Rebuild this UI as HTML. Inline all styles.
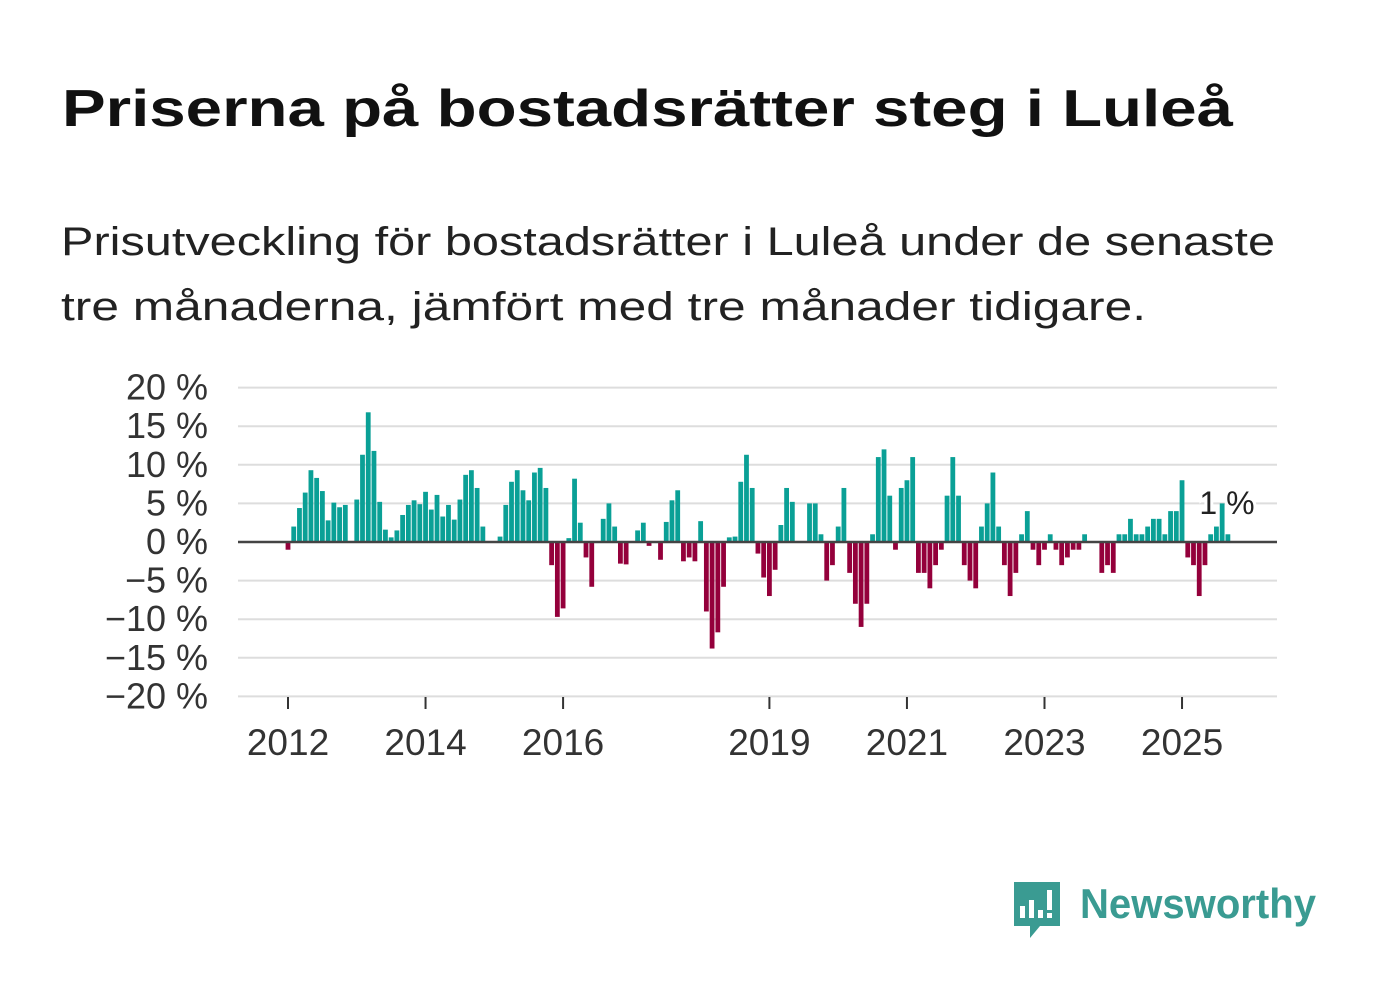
<!DOCTYPE html>
<html><head><meta charset="utf-8"><style>
html,body{margin:0;padding:0;background:#fff;}
svg{display:block;font-family:"Liberation Sans",sans-serif;}
</style></head><body>
<svg id="chart" width="1382" height="999" viewBox="0 0 1382 999" xmlns="http://www.w3.org/2000/svg">
<text x="62" y="126" font-size="52" font-weight="bold" fill="#111" textLength="1171" lengthAdjust="spacingAndGlyphs">Priserna på bostadsrätter steg i Luleå</text>
<text x="61" y="255" font-size="40" fill="#222" textLength="1214" lengthAdjust="spacingAndGlyphs">Prisutveckling för bostadsrätter i Luleå under de senaste</text>
<text x="61" y="320" font-size="40" fill="#222" textLength="1085" lengthAdjust="spacingAndGlyphs">tre månaderna, jämfört med tre månader tidigare.</text>
<g id="grid"></g>
<g id="yaxis"></g>
<g id="bars"></g>
<line x1="238" x2="1277" y1="542" y2="542" stroke="#444" stroke-width="2.5"/>
<g id="xaxis"></g>
<text x="1227" y="514" font-size="32" fill="#222" text-anchor="middle" stroke="#fff" stroke-width="6" paint-order="stroke">1 %</text>
<g>
<path d="M1014 882 h46 v44 h-20 l-10 12 v-12 h-16 z" fill="#3a9b92"/>
<rect x="1020" y="906" width="5" height="12" fill="#fff"/>
<rect x="1029" y="900" width="5" height="18" fill="#fff"/>
<rect x="1038" y="910" width="5" height="8" fill="#fff"/>
<rect x="1047" y="890" width="5" height="20" fill="#fff"/>
<rect x="1047" y="913" width="5" height="5" fill="#fff"/>
<text x="1080" y="918" font-size="42" font-weight="bold" fill="#3a9b92" textLength="236" lengthAdjust="spacingAndGlyphs">Newsworthy</text>
</g>
</svg>
<script>
const values = [-1,2,4.4,6.4,9.3,8.3,6.6,2.8,5.1,4.5,4.8,0,5.5,11.3,16.8,11.8,5.2,1.6,0.6,1.5,3.5,4.8,5.4,4.9,6.5,4.2,6.1,3.3,4.8,2.9,5.5,8.7,9.3,7.0,2.0,0,0,0.7,4.8,7.8,9.3,6.7,5.4,9.0,9.6,7.0,
-3,-9.7,-8.6,0.5,8.2,2.5,-2,-5.8,0,3,5,2,-2.8,-2.9,0,1.5,2.5,-0.5,0,-2.3,2.6,5.4,6.7,-2.5,-2,-2.5,2.7,-9,-13.8,-11.7,-5.8,0.6,0.7,7.8,11.3,7,-1.5,-4.6,-7,-3.6,2.2,7,5.2,0,0,5,5,1,
-5,-3,2,7,-4,-8,-11,-8,1,11,12,6,-1,7,8,11,-4,-4,-6,-3,-1,6,11,6,-3,-5,-6,2,5,9,2,-3,-7,-4,1,4,-1,-3,-1,1,-1,-3,-2,-1,-1,1,0,0,
-4,-3,-4,1,1,3,1,1,2,3,3,1,4,4,8,-2,-3,-7,-3,1,2,5,1];
const yTicks = [20,15,10,5,0,-5,-10,-15,-20];
const yTickLabels = ["20 %","15 %","10 %","5 %","0 %","−5 %","−10 %","−15 %","−20 %"];
const xTickIdx = [0,24,48,84,108,132,156];
const xTickLabels = ["2012","2014","2016","2019","2021","2023","2025"];

const NS="http://www.w3.org/2000/svg";
const y = v => 542 - v*7.72;
const x = i => 288 + i*5.731;
function mk(tag, attrs, parent){const e=document.createElementNS(NS,tag);for(const k in attrs)e.setAttribute(k,attrs[k]);parent.appendChild(e);return e;}
const grid=document.getElementById('grid'), ya=document.getElementById('yaxis'), bars=document.getElementById('bars'), xa=document.getElementById('xaxis');
yTicks.forEach((t,k)=>{
  const l=mk('line',{x1:238,x2:1277,y1:y(t),y2:y(t),stroke:'#dddddd','stroke-width':2},grid);
  
  
  const tx=mk('text',{x:208,y:y(t)+12,'font-size':36,fill:'#333','text-anchor':'end'},ya);
  tx.textContent=yTickLabels[k];
  
  
});
values.forEach((v,i)=>{
  if(v===0)return;
  const r=mk('rect',{x:x(i)-2.4,width:4.8,y:Math.min(y(v),542),height:Math.abs(y(v)-542),fill:v>0?'#0aa096':'#94003b'},bars);
  
  
});
xTickIdx.forEach((idx,k)=>{
  const t=mk('line',{x1:x(idx),x2:x(idx),y1:697,y2:709,stroke:'#333','stroke-width':2},xa);
  
  
  const tx=mk('text',{x:x(idx),y:755,'font-size':37,fill:'#333','text-anchor':'middle'},xa);
  tx.textContent=xTickLabels[k];
  
  
});
</script>
</body></html>
